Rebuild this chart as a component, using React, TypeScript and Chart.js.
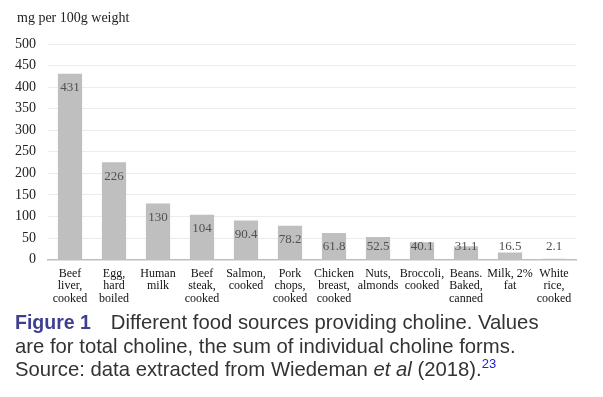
import React, { useEffect, useRef } from "react";
import { Chart, registerables } from "chart.js";

Chart.register(...registerables);

const categories: string[][] = [
  ["Beef", "liver,", "cooked"],
  ["Egg,", "hard", "boiled"],
  ["Human", "milk"],
  ["Beef", "steak,", "cooked"],
  ["Salmon,", "cooked"],
  ["Pork", "chops,", "cooked"],
  ["Chicken", "breast,", "cooked"],
  ["Nuts,", "almonds"],
  ["Broccoli,", "cooked"],
  ["Beans.", "Baked,", "canned"],
  ["Milk, 2%", "fat"],
  ["White", "rice,", "cooked"],
];
const cholineValues: number[] = [431, 226, 130, 104, 90.4, 78.2, 61.8, 52.5, 40.1, 31.1, 16.5, 2.1];
const valueLabels: string[] = ["431", "226", "130", "104", "90.4", "78.2", "61.8", "52.5", "40.1", "31.1", "16.5", "2.1"];
const axisTitle = "mg per 100g weight";

const SERIF = "'Liberation Serif', 'Times New Roman', serif";

const overlayPlugin = {
  id: "overlay",
  afterDatasetsDraw(chart: any) {
    const ctx = chart.ctx;
    const meta = chart.getDatasetMeta(0);
    ctx.save();
    ctx.font = `13px ${SERIF}`;
    ctx.fillStyle = "#505050";
    ctx.textAlign = "center";
    ctx.textBaseline = "middle";
    meta.data.forEach((bar: any, i: number) => {
      const y = Math.min(bar.y + 14, bar.base - 12);
      ctx.fillText(valueLabels[i], bar.x, y);
    });
    ctx.restore();
  },
  afterDraw(chart: any) {
    const ctx = chart.ctx;
    ctx.save();
    ctx.font = `14px ${SERIF}`;
    ctx.fillStyle = "#222";
    ctx.textAlign = "left";
    ctx.textBaseline = "middle";
    ctx.fillText(axisTitle, 17, 18);
    ctx.restore();
  },
};

export default function App() {
  const ref = useRef<HTMLCanvasElement | null>(null);
  useEffect(() => {
    if (!ref.current) return;
    const chart = new Chart(ref.current, {
      type: "bar",
      data: {
        labels: categories,
        datasets: [
          {
            data: cholineValues,
            backgroundColor: "#bfbfbf",
            barPercentage: 0.55,
            categoryPercentage: 1,
          },
        ],
      },
      options: {
        animation: false,
        responsive: false,
        devicePixelRatio: 1,
        layout: { padding: { top: 44, right: 27, bottom: 4, left: 3 } },
        plugins: { legend: { display: false }, tooltip: { enabled: false }, title: { display: false } },
        scales: {
          x: {
            grid: { display: false, drawTicks: false },
            border: { display: true, color: "#bfbfbf", width: 1.5 },
            ticks: {
              autoSkip: false,
              maxRotation: 0,
              minRotation: 0,
              padding: 8,
              color: "#111",
              font: { family: SERIF, size: 12, lineHeight: 1.04 },
            },
          },
          y: {
            min: 0,
            max: 500,
            ticks: {
              stepSize: 50,
              padding: 12,
              color: "#222",
              font: { family: SERIF, size: 14 },
            },
            grid: { color: "#ececec", drawTicks: false },
            border: { display: false },
          },
        },
      },
      plugins: [overlayPlugin],
    });
    return () => chart.destroy();
  }, []);

  const cap: React.CSSProperties = {
    fontFamily: "'Liberation Sans', Arial, sans-serif",
    fontSize: 20.3,
    lineHeight: "23.5px",
    color: "#333",
    margin: 0,
    position: "absolute",
    left: 15,
    top: 311,
    width: 588,
    whiteSpace: "nowrap",
  };

  return (
    <div style={{ position: "fixed", left: 0, top: 0, width: 603, height: 397, background: "#fff" }}>
      <canvas ref={ref} width={603} height={317} style={{ display: "block", width: 603, height: 317 }} />
      <p style={cap}>
        <b style={{ color: "#3f3f8f", fontSize: 19.5 }}>Figure 1</b>
        <span style={{ marginLeft: 20 }}>Different food sources providing choline. Values</span>
        <br />
        are for total choline, the sum of individual choline forms.
        <br />
        Source: data extracted from Wiedeman <i>et al</i> (2018).
        <sup style={{ color: "#2222cc", fontSize: 13, verticalAlign: "8px", lineHeight: 0 }}>23</sup>
      </p>
    </div>
  );
}
